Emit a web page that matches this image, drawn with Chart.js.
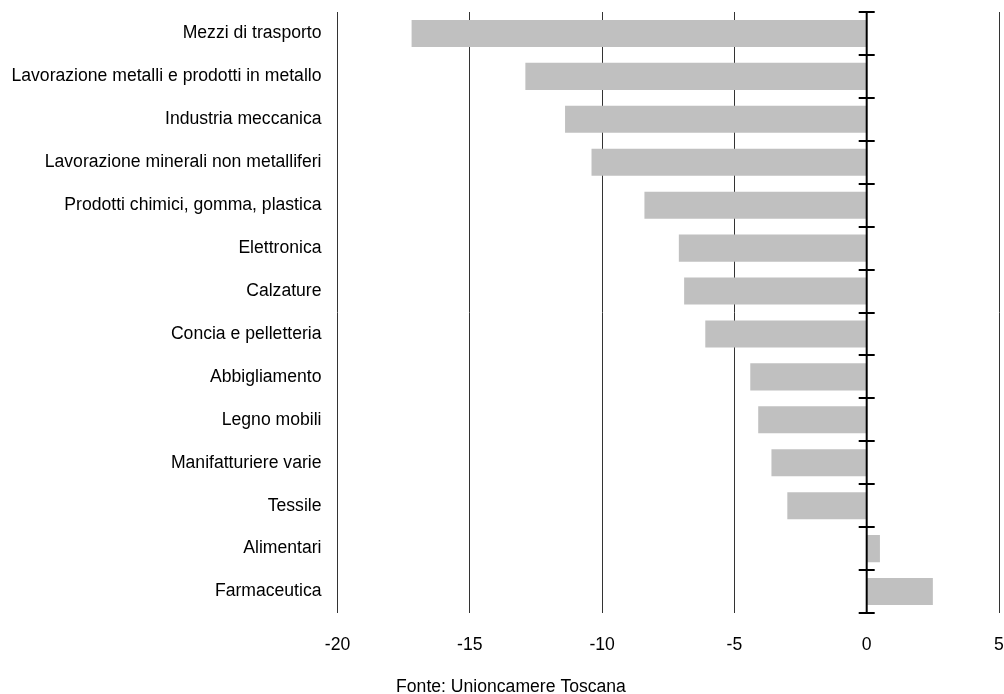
<!DOCTYPE html>
<html>
<head>
<meta charset="utf-8">
<script src="https://cdn.jsdelivr.net/npm/chart.js@4"></script>
<style>
  html, body { margin: 0; padding: 0; background: #fff; }
  #wrap { width: 1004px; height: 694px; position: relative; }
</style>
</head>
<body>
<div id="wrap"><canvas id="c" width="1004" height="694"></canvas></div>
<script>
// Settori manifatturieri
const categories = [
  'Mezzi di trasporto',
  'Lavorazione metalli e prodotti in metallo',
  'Industria meccanica',
  'Lavorazione minerali non metalliferi',
  'Prodotti chimici, gomma, plastica',
  'Elettronica',
  'Calzature',
  'Concia e pelletteria',
  'Abbigliamento',
  'Legno mobili',
  'Manifatturiere varie',
  'Tessile',
  'Alimentari',
  'Farmaceutica'
];

// Variazione percentuale
const values = [-17.2, -12.9, -11.4, -10.4, -8.4, -7.1, -6.9, -6.1, -4.4, -4.1, -3.6, -3.0, 0.5, 2.5];

// Scala orizzontale
const xMin = -20;
const xMax = 5;
const xStep = 5;

const sourceNote = 'Fonte: Unioncamere Toscana';

const FONT = '"Liberation Sans", Arial, sans-serif';
const FONT_SIZE = 17.6;

// Asse dello zero con tacche tra le categorie
const zeroAxis = {
  id: 'zeroAxis',
  afterDatasetsDraw(chart) {
    const { ctx, scales: { x, y }, chartArea } = chart;
    const x0 = x.getPixelForValue(0);
    ctx.save();
    ctx.strokeStyle = '#000';
    ctx.lineWidth = 2;
    ctx.beginPath();
    ctx.moveTo(x0, chartArea.top);
    ctx.lineTo(x0, chartArea.bottom);
    ctx.stroke();
    const n = categories.length;
    const half = (y.getPixelForValue(1) - y.getPixelForValue(0)) / 2;
    for (let i = 0; i <= n; i++) {
      const py = i < n ? y.getPixelForValue(i) - half : chartArea.bottom;
      ctx.beginPath();
      ctx.moveTo(x0 - 8, Math.round(py));
      ctx.lineTo(x0 + 8, Math.round(py));
      ctx.stroke();
    }
    ctx.restore();
  }
};

// Nota sulla fonte
const sourceText = {
  id: 'sourceText',
  afterDraw(chart) {
    const { ctx } = chart;
    ctx.save();
    ctx.fillStyle = '#000';
    ctx.font = FONT_SIZE + 'px ' + FONT;
    ctx.textAlign = 'center';
    ctx.textBaseline = 'middle';
    ctx.fillText(sourceNote, 511, 687);
    ctx.restore();
  }
};

function clearScalePadding(scale) {
  scale.paddingTop = 0;
  scale.paddingBottom = 0;
  scale.paddingLeft = 0;
  scale.paddingRight = 0;
}

new Chart(document.getElementById('c'), {
  type: 'bar',
  data: {
    labels: categories,
    datasets: [{
      data: values,
      backgroundColor: '#c0c0c0',
      borderWidth: 0,
      barPercentage: 0.63,
      categoryPercentage: 1.0
    }]
  },
  options: {
    indexAxis: 'y',
    responsive: false,
    animation: false,
    devicePixelRatio: 1,
    layout: { autoPadding: false, padding: { top: 12, right: 5, bottom: 0, left: 0 } },
    plugins: {
      legend: { display: false },
      tooltip: { enabled: false },
      title: { display: false }
    },
    scales: {
      x: {
        type: 'linear',
        min: xMin,
        max: xMax,
        ticks: {
          stepSize: xStep,
          color: '#000',
          padding: 22,
          font: { family: FONT, size: FONT_SIZE }
        },
        grid: {
          color: (c) => (c.tick && c.tick.value === 0) ? 'rgba(0,0,0,0)' : '#333',
          lineWidth: 1,
          drawTicks: false
        },
        border: { display: false },
        afterFit(scale) { scale.height = 81; clearScalePadding(scale); }
      },
      y: {
        ticks: {
          color: '#000',
          padding: 16,
          font: { family: FONT, size: FONT_SIZE }
        },
        grid: { display: false, drawTicks: false },
        border: { display: false },
        afterFit(scale) { scale.width = 337.5; clearScalePadding(scale); }
      }
    }
  },
  plugins: [zeroAxis, sourceText]
});
</script>
</body>
</html>
